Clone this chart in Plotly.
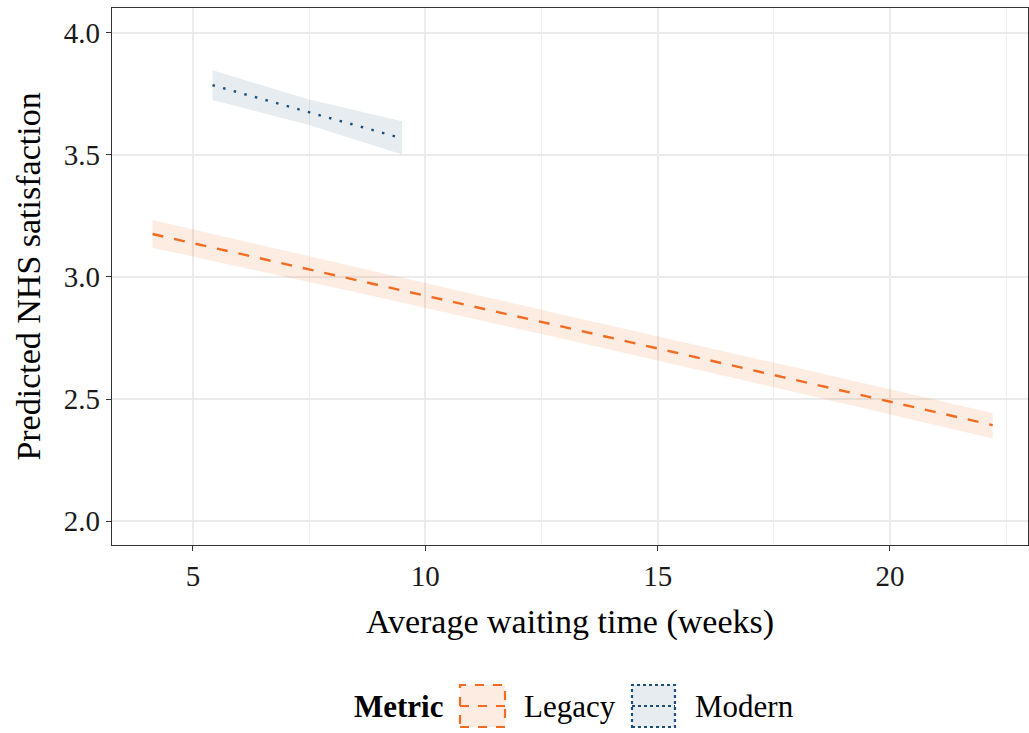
import plotly.graph_objects as go

# Data
legacy_x = [4.13, 8.65, 13.17, 17.69, 22.21]
legacy_fit = [3.176, 2.982, 2.787, 2.590, 2.393]
legacy_lo = [3.120, 2.931, 2.738, 2.540, 2.338]
legacy_hi = [3.233, 3.033, 2.836, 2.641, 2.443]

modern_x = [5.42, 7.46, 9.50]
modern_fit = [3.786, 3.677, 3.568]
modern_lo = [3.725, 3.625, 3.502]
modern_hi = [3.847, 3.729, 3.638]

x_ticks = [5, 10, 15, 20]
y_ticks = [2.0, 2.5, 3.0, 3.5, 4.0]
y_tick_labels = ["2.0", "2.5", "3.0", "3.5", "4.0"]

ORANGE = "#F26B21"
ORANGE_FILL = "rgba(242,107,33,0.13)"
NAVY = "#1B4F7A"
NAVY_FILL = "rgba(27,79,122,0.11)"
FONT = "Liberation Serif"

fig = go.Figure()


def add_series(x, fit, lo, hi, color, fill, dash, name):
    fig.add_trace(go.Scatter(
        x=list(x) + list(x)[::-1], y=list(hi) + list(lo)[::-1],
        fill="toself", fillcolor=fill, line=dict(width=0),
        mode="lines", hoverinfo="skip", showlegend=False, name=name))
    fig.add_trace(go.Scatter(
        x=x, y=fit, mode="lines", name=name, showlegend=False,
        line=dict(color=color, width=2.4, dash=dash)))


add_series(legacy_x, legacy_fit, legacy_lo, legacy_hi, ORANGE, ORANGE_FILL, "11px,11px", "Legacy")
add_series(modern_x, modern_fit, modern_lo, modern_hi, NAVY, NAVY_FILL, "2.5px,8.5px", "Modern")

W, H = 1029, 733
ML, MR, MT, MB = 112, 1, 8, 188
PW, PH = W - ML - MR, H - MT - MB


def px_x(p):
    return (p - ML) / PW


def px_y(p):
    return (H - MB - p) / PH


# Manual legend (ggplot-style keys)
keys = [
    ("Legacy", 460, 505, ORANGE, ORANGE_FILL, "dash", 522),
    ("Modern", 632, 675, NAVY, NAVY_FILL, "dot", 693),
]
for label, x0, x1, col, fillc, dsh, tx in keys:
    fig.add_shape(type="rect", xref="paper", yref="paper",
                  x0=px_x(x0), x1=px_x(x1), y0=px_y(727), y1=px_y(685),
                  fillcolor=fillc, line=dict(color=col, width=2.2, dash=dsh), layer="above")
    fig.add_shape(type="line", xref="paper", yref="paper",
                  x0=px_x(x0), x1=px_x(x1), y0=px_y(706), y1=px_y(706),
                  line=dict(color=col, width=2.2, dash=dsh), layer="above")
    fig.add_annotation(xref="paper", yref="paper", x=px_x(tx), y=px_y(706),
                       xanchor="left", yanchor="middle", showarrow=False,
                       text=label, font=dict(family=FONT, size=31, color="black"))
fig.add_annotation(xref="paper", yref="paper", x=px_x(352), y=px_y(706),
                   xanchor="left", yanchor="middle", showarrow=False,
                   text="<b>Metric</b>", font=dict(family=FONT, size=31, color="black"))

axis_common = dict(showline=True, mirror=True, linecolor="#333333", linewidth=1.3,
                   ticks="outside", ticklen=5, tickcolor="#333333", tickwidth=1.3,
                   gridcolor="#EBEBEB", gridwidth=2, zeroline=False,
                   tickfont=dict(family=FONT, size=29, color="#1a1a1a"))

fig.update_layout(
    width=W, height=H,
    margin=dict(l=ML, r=MR, t=MT, b=MB, autoexpand=False),
    plot_bgcolor="white", paper_bgcolor="white",
    font=dict(family=FONT, color="black"),
    showlegend=False,
    xaxis=dict(range=[3.257, 22.97], tickvals=x_ticks,
               minor=dict(tick0=2.5, dtick=5, showgrid=True, gridcolor="#EFEFEF", gridwidth=1),
               title=dict(text="Average waiting time (weeks)", font=dict(family=FONT, size=34, color="black"), standoff=18),
               **axis_common),
    yaxis=dict(range=[1.902, 4.102], tickvals=y_ticks, ticktext=y_tick_labels,
               title=dict(text="Predicted NHS satisfaction", font=dict(family=FONT, size=34, color="black"), standoff=12),
               **axis_common),
)

fig.write_html("out.html")
